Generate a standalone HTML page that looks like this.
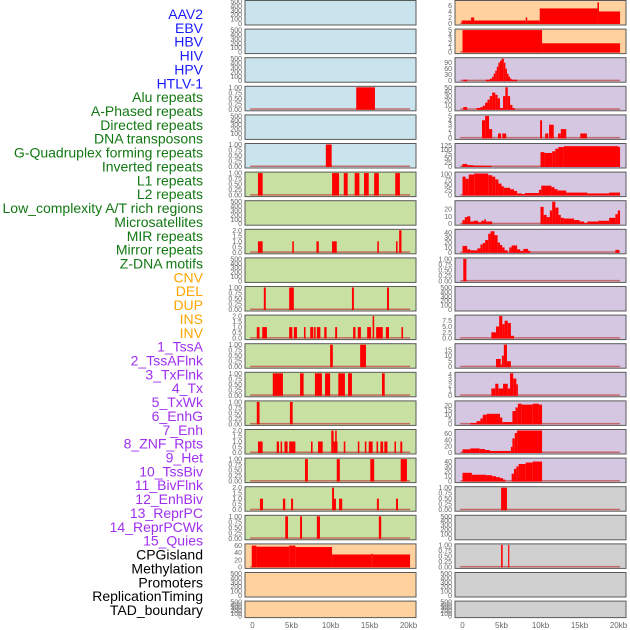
<!DOCTYPE html>
<html><head><meta charset="utf-8"><style>
html,body{margin:0;padding:0;background:#fff;}
svg{display:block;font-family:"Liberation Sans",sans-serif;}
</style></head><body>
<svg id="chart" width="630" height="630" viewBox="0 0 630 630"></svg>
<script>
const labels=["AAV2","EBV","HBV","HIV","HPV","HTLV-1","Alu repeats","A-Phased repeats","Directed repeats","DNA transposons","G-Quadruplex forming repeats","Inverted repeats","L1 repeats","L2 repeats","Low_complexity A/T rich regions","Microsatellites","MIR repeats","Mirror repeats","Z-DNA motifs","CNV","DEL","DUP","INS","INV","1_TssA","2_TssAFlnk","3_TxFlnk","4_Tx","5_TxWk","6_EnhG","7_Enh","8_ZNF_Rpts","9_Het","10_TssBiv","11_BivFlnk","12_EnhBiv","13_ReprPC","14_ReprPCWk","15_Quies","CPGisland","Methylation","Promoters","ReplicationTiming","TAD_boundary"];
const labelGroups=[6,13,5,15,5];
const groupColors=["#1a1aff","#137813","#ffa500","#a030f0","#000"];
const xTicks=[0,5,10,15,20];
const xTickLabels=["0","5kb","10kb","15kb","20kb"];
// Left column panels: [ymax, ticks, segments [startKb,endKb,value]]
const E=[500,[0,100,200,300,400,500],[]];
const T1=[0,0.25,0.5,0.75,1];
const T2=[0,0.5,1,1.5,2];
const leftBg=["#c9e4ec","#c9e4ec","#c9e4ec","#c9e4ec","#c9e4ec","#c9e4ec","#c8e0a2","#c8e0a2","#c8e0a2","#c8e0a2","#c8e0a2","#c8e0a2","#c8e0a2","#c8e0a2","#c8e0a2","#c8e0a2","#c8e0a2","#c8e0a2","#c8e0a2","#ffd19e","#ffd19e","#ffd19e"];
const rightBg=["#ffd19e","#ffd19e","#d5c6e2","#d5c6e2","#d5c6e2","#d5c6e2","#d5c6e2","#d5c6e2","#d5c6e2","#d5c6e2","#d5c6e2","#d5c6e2","#d5c6e2","#d5c6e2","#d5c6e2","#d5c6e2","#d5c6e2","#d0d0d0","#d0d0d0","#d0d0d0","#d0d0d0","#d0d0d0"];
const left=[E,E,E,
[1,T1,[[13.3,15.7,1]]],
E,
[1,T1,[[9.4,10.15,1]]],
[1,T1,[[0.7,1.3,1],[10.2,11.1,1],[11.7,12.2,1],[13.1,13.7,1],[14.3,14.9,1],[15.6,16.2,1],[18.3,18.9,1]]],
E,
[2,T2,[[0.7,1.3,1],[5.1,5.3,1],[8.2,8.5,1],[10.2,10.8,1],[16.0,16.2,1],[18.4,18.6,1],[18.8,19.1,2]]],
E,
[1,T1,[[1.45,1.7,1],[4.7,5.3,1],[12.75,13.0,1],[17.25,17.5,1]]],
[2,T2,[[0.55,0.9,1],[1.25,1.85,1],[4.7,5.1,1],[5.3,5.7,1],[6.6,6.8,1],[7.4,7.8,1],[7.9,8.1,1],[8.25,8.7,1],[9.2,9.5,1],[10.6,10.85,1],[12.9,13.2,1],[13.5,13.9,1],[14.7,15.2,1],[15.4,15.6,2],[15.85,16.7,1],[17.1,17.5,1],[19.1,19.3,1]]],
[1,T1,[[9.95,10.3,1],[13.8,14.55,1]]],
[1,T1,[[2.6,3.9,1],[6.1,6.55,1],[8.0,8.9,1],[9.3,9.95,1],[11.0,11.85,1],[12.25,12.75,1],[16.6,16.95,1]]],
[1,T1,[[0.55,0.9,1],[4.8,5.15,1]]],
[2,T2,[[0.7,1.3,1],[3.1,3.4,1],[3.6,3.8,1],[4.1,4.5,1],[4.7,5.5,1],[7.5,7.7,1],[8.4,9.0,1],[10.1,10.4,2],[10.4,10.9,1],[10.6,10.8,2],[11.7,11.9,1],[13.5,13.7,1],[14.4,14.6,1],[14.9,15.4,1],[15.9,16.1,1],[16.4,16.75,1],[16.9,17.3,1],[18.2,18.4,1],[18.95,19.2,1]]],
[1,T1,[[6.73,7.1,1],[10.8,11.2,1],[15.1,15.6,1],[19.0,19.8,1]]],
[2,T2,[[0.95,1.35,1],[3.9,4.2,1],[4.95,5.2,1],[10.2,10.45,2],[10.45,10.7,1],[11.1,11.5,1],[15.95,16.2,1],[18.4,18.65,1]]],
[1,T1,[[4.2,4.55,1],[6.1,6.35,1],[8.25,8.65,1],[16.2,16.5,1]]],
[62,[0,20,40,60],[[-0.1,0.5,60],[0.5,4.7,57],[4.7,5.5,60],[5.5,10.2,56],[10.2,15.2,35],[15.2,15.4,37],[15.4,20.2,35]]],
E,E];
const right=[
[7.3,[0,2,4,6],[[-0.1,1.1,1],[1.1,1.5,2],[1.5,8.1,1],[8.1,8.3,2],[8.3,9.9,1],[9.9,17.3,5],[17.3,17.5,7],[17.5,20.2,4]]],
[5,[0,1,2,3,4,5],[[0,10.2,5],[10.2,20.2,2]]],
[110,[0,30,60,90],[[0.1,0.6,5],[3.0,3.5,5],[3.5,3.8,10],[3.8,4.0,20],[4.0,4.2,35],[4.2,4.4,50],[4.4,4.6,70],[4.6,4.8,90],[4.8,5.0,100],[5.0,5.3,110],[5.3,5.5,90],[5.5,5.7,60],[5.7,5.9,35],[5.9,6.1,20],[6.1,6.3,10],[6.3,7.0,5]]],
[50,[0,10,20,30,40,50],[[0.1,0.6,5],[1.8,2.3,3],[2.3,2.6,5],[2.6,2.9,8],[2.9,3.2,15],[3.2,3.5,22],[3.5,3.8,30],[3.8,4.2,38],[4.2,4.5,33],[4.5,4.8,25],[4.8,5.2,3],[5.2,5.5,30],[5.5,5.8,50],[5.8,6.1,30],[6.1,6.4,10],[6.4,6.7,3]]],
[5,[0,1,2,3,4,5],[[2.5,2.9,4],[2.9,3.4,5],[3.4,3.8,2],[4.55,4.95,1],[5.1,5.6,1],[9.95,10.2,4],[10.6,11.0,1],[11.1,11.7,3],[12.25,12.6,1],[12.6,13.3,2],[15.1,15.95,1]]],
[130,[0,25,50,75,100,125],[[0,0.6,15],[0.6,1.4,8],[1.4,2.8,5],[2.8,3.7,4],[10.0,10.5,85],[10.5,11.5,80],[11.5,11.9,90],[11.9,12.3,105],[12.3,13.0,115],[13.0,20.0,120],[20.0,20.2,115]]],
[105,[0,25,50,75,100],[[0,0.4,88],[0.4,0.8,78],[0.8,1.5,98],[1.5,3.3,103],[3.3,3.8,95],[3.8,4.2,88],[4.2,4.6,75],[4.6,5.0,55],[5.0,5.3,42],[5.3,6.1,35],[6.1,6.6,28],[6.6,7.0,20],[7.0,7.6,8],[7.6,8.0,5],[8.0,9.8,10],[9.8,10.1,25],[10.1,11.4,45],[11.4,11.8,38],[11.8,12.2,28],[12.2,13.3,22],[13.3,16.0,12],[16.0,18.8,8],[18.8,20.2,12]]],
[30,[0,10,20],[[0,0.3,5],[0.3,0.6,9],[0.6,1.0,10],[1.0,1.4,3],[1.4,2.0,4],[2.0,2.4,2],[2.4,2.8,4],[2.8,3.0,6],[3.0,3.8,3],[10.0,10.4,23],[10.4,10.8,12],[10.8,11.2,9],[11.2,11.5,18],[11.5,11.9,30],[11.9,12.3,22],[12.3,12.6,12],[12.6,13.0,8],[13.0,14.3,7],[14.3,15.0,5],[15.0,15.6,3],[15.6,16.0,1],[16.0,17.4,3],[17.4,18.8,4],[18.8,19.6,8],[19.6,19.9,13],[19.9,20.2,18]]],
[45,[0,10,20,30,40],[[0,0.6,13],[0.6,1.0,6],[1.0,1.9,4],[1.9,2.3,8],[2.3,2.6,16],[2.6,2.9,19],[2.9,3.3,25],[3.3,3.6,38],[3.6,4.1,43],[4.1,4.5,35],[4.5,4.8,20],[4.8,5.1,15],[5.1,5.4,10],[5.4,5.8,4],[6.0,6.3,10],[6.3,7.0,14],[7.0,7.4,6],[7.4,7.8,3],[7.8,8.4,7],[8.4,8.7,3],[19.6,20.1,5]]],
[1,T1,[[0.1,0.5,1]]],
E,
[9.5,[0,2.5,5,7.5],[[3.7,4.3,2.5],[4.3,4.7,5],[4.7,5.1,9.5],[5.1,5.4,6],[5.4,5.8,7.5],[5.8,6.2,6.5],[6.2,6.6,1]]],
[20,[0,5,10,15],[[4.3,4.9,7],[4.9,5.05,2],[5.05,5.3,10],[5.3,5.7,20],[5.7,6.2,5]]],
[4.2,[0,1,2,3,4],[[3.7,4.2,1.3],[4.2,4.6,2.2],[4.6,5.2,1.3],[5.2,5.8,2.2],[5.8,6.1,1.3],[6.1,6.5,4.2],[6.5,6.9,3.2],[6.9,7.1,2.1]]],
[24,[0,5,10,15,20],[[1.0,1.8,1],[1.8,2.3,3],[2.3,2.6,6],[2.6,3.1,10],[3.1,4.8,11],[4.8,5.1,7],[5.1,6.4,2],[6.4,6.8,14],[6.8,7.1,18],[7.1,7.6,22],[7.6,9.0,21],[9.0,9.8,22],[9.8,10.2,21]]],
[70,[0,20,40,60],[[0,1.0,10],[1.0,2.2,13],[2.2,2.9,11],[2.9,3.5,8],[3.5,6.2,5],[6.2,6.4,18],[6.4,6.7,45],[6.7,7.0,62],[7.0,10.2,70]]],
[45,[0,10,20,30,40],[[0,1.2,17],[1.2,3.0,13],[3.0,3.8,12],[3.8,4.3,10],[4.3,4.8,8],[4.8,5.2,6],[5.2,5.5,3],[6.3,6.6,15],[6.6,6.9,25],[6.9,7.2,30],[7.2,8.1,35],[8.1,9.0,38],[9.0,10.2,40]]],
[1,T1,[[4.95,5.7,1]]],
E,
[1,T1,[[4.95,5.15,1],[5.85,6.0,1]]],
E,E];

const NS="http://www.w3.org/2000/svg";
const svg=document.getElementById('chart');
function mk(tag,attrs,parent){const e=document.createElementNS(NS,tag);for(const k in attrs)e.setAttribute(k,attrs[k]);(parent||svg).appendChild(e);return e;}
// labels
let li=0;
labelGroups.forEach((n,g)=>{for(let k=0;k<n;k++){const t=mk('text',{x:203,y:19+li*13.86,'text-anchor':'end','font-size':14,fill:groupColors[g]});


t.textContent=labels[li];li++;}});
const cols=[{x:245,zero:252.5,data:left,bg:leftBg,tx:242},{x:455,zero:462.5,data:right,bg:rightBg,tx:452}];
const W=171,kbPx=7.8;
cols.forEach((c,ci)=>{
  const xs=kb=>c.zero+kb*kbPx;
  c.data.forEach((p,r)=>{
    const top=r*28.6+0.5, h=(r==21)?16.5:24.5;
    const g=mk('g',{});
    
    
    mk('rect',{x:c.x,y:top,width:W,height:h,fill:c.bg[r],stroke:'#5a5a5a','stroke-width':1},g);
    const [ymax,ticks,segs]=p;
    const y0=top+h-1.5, yTop=top+1;
    const ys=v=>y0-(v/ymax)*(y0-yTop);
    ticks.forEach(t=>{const tt=mk('text',{x:c.tx,y:ys(t)+2.5,'text-anchor':'end','font-size':7,fill:'#666'},g);
      
      
      tt.textContent=(ymax==1?t.toFixed(2):(ymax==2?t.toFixed(1):(ticks.some(v=>v%1)?t.toFixed(1):String(t))));});
    if(segs.length){
      mk('rect',{x:xs(-0.3),y:y0-1,width:xs(20.2)-xs(-0.3),height:1.5,fill:'#c0504d',opacity:0.8},g);
      segs.forEach(s=>{const b=mk('rect',{x:xs(s[0]),y:ys(s[2]),width:Math.max(0.8,xs(s[1])-xs(s[0])),height:y0-ys(s[2])+0.5,fill:'#ff0000'},g);
        
        });
    }
  });
  xTicks.forEach((t,i)=>{const tt=mk('text',{x:xs(t),y:628,'text-anchor':'middle','font-size':8,fill:'#666'});
    
    
    tt.textContent=xTickLabels[i];});
});
</script>
</body></html>
